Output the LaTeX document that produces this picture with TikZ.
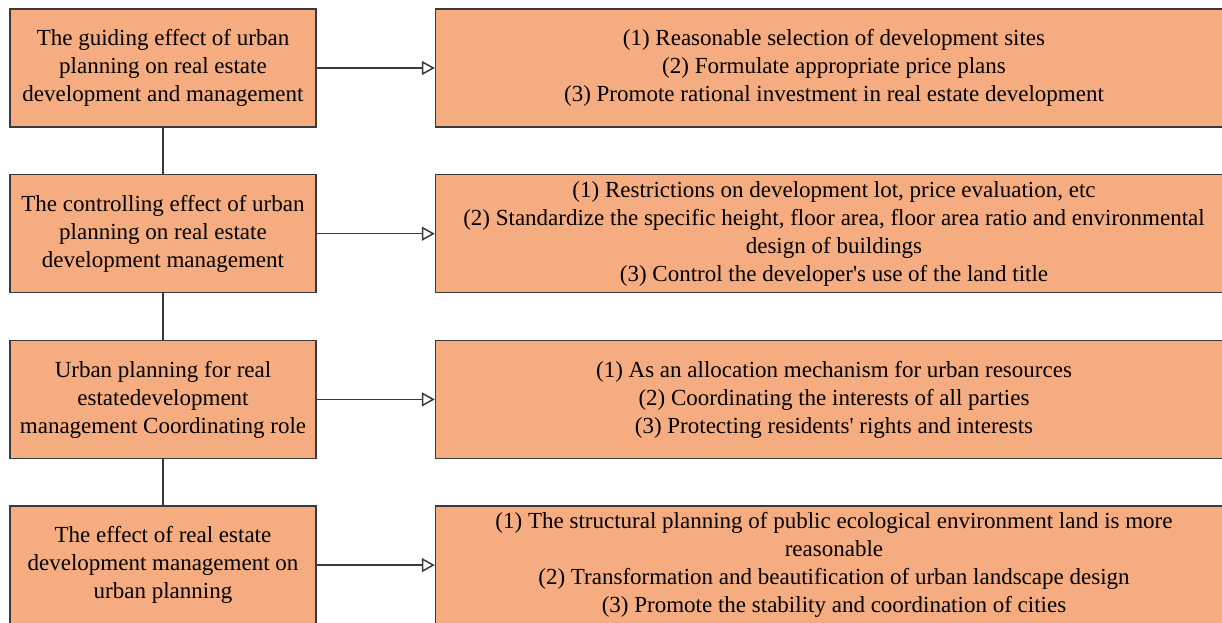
\documentclass[tikz,border=0pt]{standalone}
\usepackage{fontspec}
\setmainfont{Liberation Serif}
\usetikzlibrary{positioning, arrows.meta}
\definecolor{boxorange}{RGB}{244,172,128}
\definecolor{boxline}{RGB}{58,58,58}

\begin{document}
\begin{tikzpicture}
    [
        node distance=82.85pt and 335.5pt, on grid,
        effect_box/.style={rectangle, draw=boxline, fill=boxorange, line width=0.7pt, minimum width=153pt, minimum height=59pt, inner sep=0pt, align=center, font=\fontsize{11.5}{14}\selectfont},
        detail_box/.style={effect_box, minimum width=398.5pt},
        link/.style={line width=0.75pt, color=boxline},
    ]
        \useasboundingbox (0,0) rectangle (611pt,-311pt) ;
        \node[effect_box] (guide) at (81.5pt,-34pt) {The guiding effect of urban\\planning on real estate\\development and management} ;
        \node[effect_box] (control) [below = of guide] {The controlling effect of urban\\planning on real estate\\development management} ;
        \node[effect_box] (coord) [below = of control] {Urban planning for real\\estatedevelopment\\management Coordinating role} ;
        \node[effect_box] (feedback) [below = of coord] {The effect of real estate\\development management on\\urban planning} ;
        \node[detail_box] (guide_r) [right = of guide] {(1) Reasonable selection of development sites\\(2) Formulate appropriate price plans\\(3) Promote rational investment in real estate development} ;
        \node[detail_box] (control_r) [right = of control] {(1) Restrictions on development lot, price evaluation, etc\\(2) Standardize the specific height, floor area, floor area ratio and environmental\\design of buildings\\(3) Control the developer\textquotesingle s use of the land title} ;
        \node[detail_box] (coord_r) [right = of coord] {(1) As an allocation mechanism for urban resources\\(2) Coordinating the interests of all parties\\(3) Protecting residents\textquotesingle\ rights and interests} ;
        \node[detail_box] (feedback_r) [right = of feedback] {(1) The structural planning of public ecological environment land is more\\reasonable\\(2) Transformation and beautification of urban landscape design\\(3) Promote the stability and coordination of cities} ;
        \draw[link] (guide) to (control) ;
        \draw[link] (control) to (coord) ;
        \draw[link] (coord) to (feedback) ;
        \draw[link, -{Triangle[open, length=6.5pt, width=7pt]}] (guide) to (guide_r) ;
        \draw[link, -{Triangle[open, length=6.5pt, width=7pt]}] (control) to (control_r) ;
        \draw[link, -{Triangle[open, length=6.5pt, width=7pt]}] (coord) to (coord_r) ;
        \draw[link, -{Triangle[open, length=6.5pt, width=7pt]}] (feedback) to (feedback_r) ;
    \end{tikzpicture}
\end{document}
